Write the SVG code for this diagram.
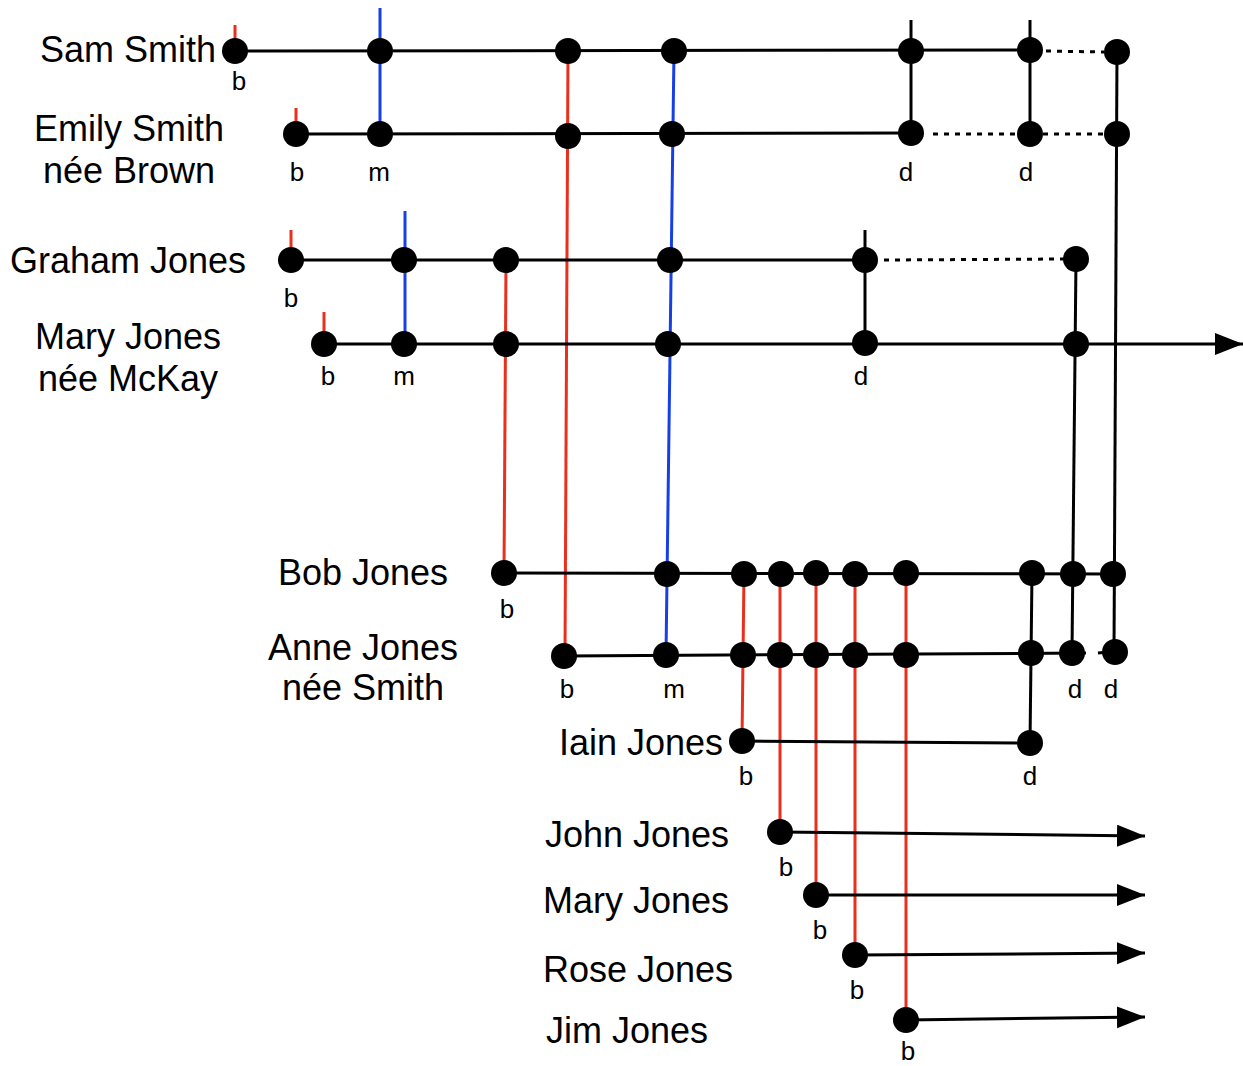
<svg xmlns="http://www.w3.org/2000/svg" width="1243" height="1066" viewBox="0 0 1243 1066">
<style>
.name{font-family:"Liberation Sans",Arial,sans-serif;font-size:36px;fill:#000;text-anchor:middle}
.ev{font-family:"Liberation Sans",Arial,sans-serif;font-size:26px;fill:#000;text-anchor:middle}
.life{stroke:#000;stroke-width:3;fill:none}
.dot{stroke:#000;stroke-width:3;fill:none;stroke-dasharray:5 6}
.red{stroke:#e8301c;stroke-width:3;fill:none}
.blue{stroke:#1640e6;stroke-width:3;fill:none}
.blk{stroke:#000;stroke-width:3;fill:none}
circle{fill:#000}
</style>
<defs>
<marker id="arr" markerUnits="userSpaceOnUse" markerWidth="30" markerHeight="24" refX="28" refY="11" orient="auto">
<path d="M0,0 L28,11 L0,22 Z" fill="#000"/>
</marker>
</defs>
<rect width="1243" height="1066" fill="#fff"/>
<g id="connectors">
<line class="blue" x1="380" y1="8" x2="380" y2="134"/>
<line class="red" x1="568" y1="51" x2="565" y2="655"/>
<line class="blue" x1="674" y1="51" x2="666" y2="655"/>
<line class="blk" x1="911" y1="51" x2="911" y2="133"/>
<line class="blk" x1="1030" y1="50" x2="1030" y2="134"/>
<line class="blk" x1="1117" y1="52" x2="1114" y2="652"/>
<line class="blue" x1="405" y1="211" x2="405" y2="344"/>
<line class="red" x1="506" y1="260" x2="504" y2="573"/>
<line class="blk" x1="865" y1="260" x2="865" y2="343"/>
<line class="blk" x1="1076" y1="259" x2="1072" y2="652"/>
<line class="blk" x1="1032" y1="573" x2="1030" y2="743"/>
<line class="red" x1="744" y1="573" x2="742" y2="741"/>
<line class="red" x1="780" y1="573" x2="780" y2="832"/>
<line class="red" x1="816" y1="573" x2="816" y2="895"/>
<line class="red" x1="855" y1="573" x2="855" y2="955"/>
<line class="red" x1="906" y1="573" x2="906" y2="1020"/>
</g>
<g id="sam-smith">
<line class="red" x1="235" y1="25" x2="235" y2="45"/>
<line class="blk" x1="911" y1="20" x2="911" y2="51"/>
<line class="blk" x1="1030" y1="20" x2="1030" y2="50"/>
<line class="life" x1="235" y1="51" x2="1030" y2="50"/>
<line class="dot" x1="1046" y1="51" x2="1104" y2="52"/>
<circle cx="235" cy="51" r="13"/><circle cx="380" cy="51" r="13"/><circle cx="568" cy="51" r="13"/><circle cx="674" cy="51" r="13"/><circle cx="911" cy="51" r="13"/><circle cx="1030" cy="50" r="13"/><circle cx="1117" cy="52" r="13"/>
<text class="name" x="128" y="62">Sam Smith</text>
<text class="ev" x="239" y="90">b</text>
</g>
<g id="emily-smith">
<line class="red" x1="296" y1="108" x2="296" y2="126"/>
<line class="life" x1="296" y1="134" x2="911" y2="133"/>
<line class="dot" x1="933" y1="134" x2="1104" y2="134"/>
<circle cx="296" cy="134" r="13"/><circle cx="380" cy="134" r="13"/><circle cx="568" cy="136" r="13"/><circle cx="672" cy="134" r="13"/><circle cx="911" cy="133" r="13"/><circle cx="1030" cy="134" r="13"/><circle cx="1117" cy="134" r="13"/>
<text class="name" x="129" y="141">Emily Smith</text>
<text class="name" x="129" y="183">née Brown</text>
<text class="ev" x="297" y="181">b</text><text class="ev" x="379" y="181">m</text><text class="ev" x="906" y="181">d</text><text class="ev" x="1026" y="181">d</text>
</g>
<g id="graham-jones">
<line class="red" x1="291" y1="230" x2="291" y2="250"/>
<line class="blk" x1="865" y1="230" x2="865" y2="260"/>
<line class="life" x1="291" y1="260" x2="865" y2="260"/>
<line class="dot" x1="884" y1="260" x2="1064" y2="259"/>
<circle cx="291" cy="260" r="13"/><circle cx="404" cy="260" r="13"/><circle cx="506" cy="260" r="13"/><circle cx="670" cy="260" r="13"/><circle cx="865" cy="260" r="13"/><circle cx="1076" cy="259" r="13"/>
<text class="name" x="128" y="273">Graham Jones</text>
<text class="ev" x="291" y="307">b</text>
</g>
<g id="mary-jones-mckay">
<line class="red" x1="324" y1="312" x2="324" y2="334"/>
<line class="life" x1="324" y1="344" x2="1243" y2="344" marker-end="url(#arr)"/>
<circle cx="324" cy="344" r="13"/><circle cx="404" cy="344" r="13"/><circle cx="506" cy="344" r="13"/><circle cx="668" cy="344" r="13"/><circle cx="865" cy="343" r="13"/><circle cx="1076" cy="344" r="13"/>
<text class="name" x="128" y="349">Mary Jones</text>
<text class="name" x="128" y="391">née McKay</text>
<text class="ev" x="328" y="385">b</text><text class="ev" x="404" y="385">m</text><text class="ev" x="861" y="385">d</text>
</g>
<g id="bob-jones">
<line class="life" x1="504" y1="573" x2="1113" y2="574"/>
<circle cx="504" cy="573" r="13"/><circle cx="667" cy="574" r="13"/><circle cx="744" cy="574" r="13"/><circle cx="781" cy="574" r="13"/><circle cx="816" cy="573" r="13"/><circle cx="855" cy="574" r="13"/><circle cx="906" cy="573" r="13"/><circle cx="1032" cy="573" r="13"/><circle cx="1073" cy="574" r="13"/><circle cx="1113" cy="574" r="13"/>
<text class="name" x="363" y="585">Bob Jones</text>
<text class="ev" x="507" y="618">b</text>
</g>
<g id="anne-jones">
<line class="life" x1="564" y1="656" x2="1086" y2="653"/>
<line class="life" x1="1098" y1="653" x2="1108" y2="652"/>
<circle cx="564" cy="656" r="13"/><circle cx="666" cy="655" r="13"/><circle cx="743" cy="655" r="13"/><circle cx="780" cy="655" r="13"/><circle cx="816" cy="655" r="13"/><circle cx="855" cy="655" r="13"/><circle cx="906" cy="655" r="13"/><circle cx="1031" cy="653" r="13"/><circle cx="1072" cy="653" r="13"/><circle cx="1115" cy="652" r="13"/>
<text class="name" x="363" y="660">Anne Jones</text>
<text class="name" x="363" y="700">née Smith</text>
<text class="ev" x="567" y="698">b</text><text class="ev" x="674" y="698">m</text><text class="ev" x="1075" y="698">d</text><text class="ev" x="1111" y="698">d</text>
</g>
<g id="iain-jones">
<line class="life" x1="742" y1="741" x2="1030" y2="743"/>
<circle cx="742" cy="741" r="13"/><circle cx="1030" cy="743" r="13"/>
<text class="name" x="641" y="755">Iain Jones</text>
<text class="ev" x="746" y="785">b</text><text class="ev" x="1030" y="785">d</text>
</g>
<g id="john-jones">
<line class="life" x1="780" y1="832" x2="1145" y2="836" marker-end="url(#arr)"/>
<circle cx="780" cy="832" r="13"/>
<text class="name" x="637" y="847">John Jones</text>
<text class="ev" x="786" y="876">b</text>
</g>
<g id="mary-jones">
<line class="life" x1="816" y1="895" x2="1145" y2="895" marker-end="url(#arr)"/>
<circle cx="816" cy="895" r="13"/>
<text class="name" x="636" y="913">Mary Jones</text>
<text class="ev" x="820" y="939">b</text>
</g>
<g id="rose-jones">
<line class="life" x1="855" y1="955" x2="1145" y2="953" marker-end="url(#arr)"/>
<circle cx="855" cy="955" r="13"/>
<text class="name" x="638" y="982">Rose Jones</text>
<text class="ev" x="857" y="999">b</text>
</g>
<g id="jim-jones">
<line class="life" x1="906" y1="1020" x2="1145" y2="1017" marker-end="url(#arr)"/>
<circle cx="906" cy="1020" r="13"/>
<text class="name" x="627" y="1043">Jim Jones</text>
<text class="ev" x="908" y="1060">b</text>
</g>
</svg>
